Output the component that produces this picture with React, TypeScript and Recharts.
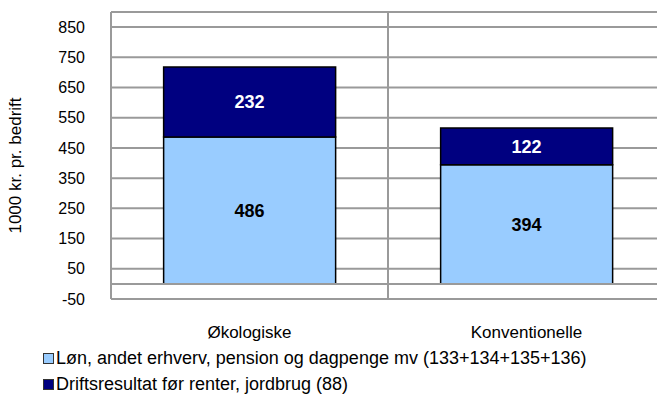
import { BarChart, Bar, XAxis, YAxis, CartesianGrid, ReferenceLine, Legend, LabelList, Label } from 'recharts';

const categories = ['Økologiske', 'Konventionelle'];
const lonValues = [486, 394];
const driftValues = [232, 122];
const yTicks = [-50, 50, 150, 250, 350, 450, 550, 650, 750, 850, 900];

const seriesNames = {
  lon: 'Løn, andet erhverv, pension og dagpenge mv (133+134+135+136)',
  drift: 'Driftsresultat før renter, jordbrug (88)',
};
const legendOrder = ['lon', 'drift'];

const data = categories.map((name, i) => ({ name, lon: lonValues[i], drift: driftValues[i] }));

const FONT = '"Liberation Sans", Arial, sans-serif';
const GRID = '#9a9a9a';

function LegendBox({ payload }: any) {
  const items = [...(payload || [])].sort(
    (a: any, b: any) => legendOrder.indexOf(a.dataKey) - legendOrder.indexOf(b.dataKey)
  );
  return (
    <div style={{ fontFamily: FONT, fontSize: 18, color: '#000' }}>
      {items.map((p: any) => (
        <div key={p.value} style={{ display: 'flex', alignItems: 'center', height: 26 }}>
          <span
            style={{
              display: 'inline-block',
              width: 9,
              height: 9,
              background: p.color,
              border: '1px solid #333',
              marginRight: 2,
            }}
          />
          <span>{p.value}</span>
        </div>
      ))}
    </div>
  );
}

export default function App() {
  return (
    <div style={{ position: 'absolute', left: 0, top: 0, width: 657, height: 403, background: '#fff' }}>
      <BarChart
        width={657}
        height={403}
        data={data}
        margin={{ top: 12, right: -8, left: 41, bottom: 12 }}
        barCategoryGap="19%"
        style={{ fontFamily: FONT }}
      >
        <CartesianGrid
          stroke={GRID}
          strokeWidth={2}
          verticalCoordinatesGenerator={({ offset }: any) => [
            offset.left,
            offset.left + offset.width / 2,
            offset.left + offset.width,
          ]}
        />
        <XAxis
          dataKey="name"
          axisLine={false}
          tickLine={false}
          height={40}
          tickMargin={21}
          tick={{ fill: '#000', fontSize: 17 }}
        />
        <YAxis
          type="number"
          domain={[-50, 900]}
          ticks={yTicks}
          interval={0}
          axisLine={false}
          tickLine={false}
          width={70}
          tickMargin={20}
          tick={{ fill: '#000', fontSize: 16 }}
          tickFormatter={(v: number) => (v === 900 ? '' : String(v))}
        >
          <Label
            value="1000 kr. pr. bedrift"
            angle={-90}
            position="insideLeft"
            offset={-26}
            dy={10}
            style={{ fill: '#000', fontSize: 17, textAnchor: 'middle' }}
          />
        </YAxis>
        <ReferenceLine y={0} stroke={GRID} strokeWidth={2} />
        <Bar dataKey="lon" name={seriesNames.lon} stackId="a" fill="#99CCFF" stroke="#000" strokeWidth={1.5} isAnimationActive={false}>
          <LabelList dataKey="lon" position="center" fill="#000" fontSize={18} fontWeight="bold" />
        </Bar>
        <Bar dataKey="drift" name={seriesNames.drift} stackId="a" fill="#000080" stroke="#000" strokeWidth={1.5} isAnimationActive={false}>
          <LabelList dataKey="drift" position="center" fill="#fff" fontSize={18} fontWeight="bold" />
        </Bar>
        <Legend
          layout="vertical"
          align="center"
          verticalAlign="bottom"
          content={<LegendBox />}
          wrapperStyle={{ left: 43, top: 345, bottom: 'auto', width: 'auto' }}
        />
      </BarChart>
    </div>
  );
}
